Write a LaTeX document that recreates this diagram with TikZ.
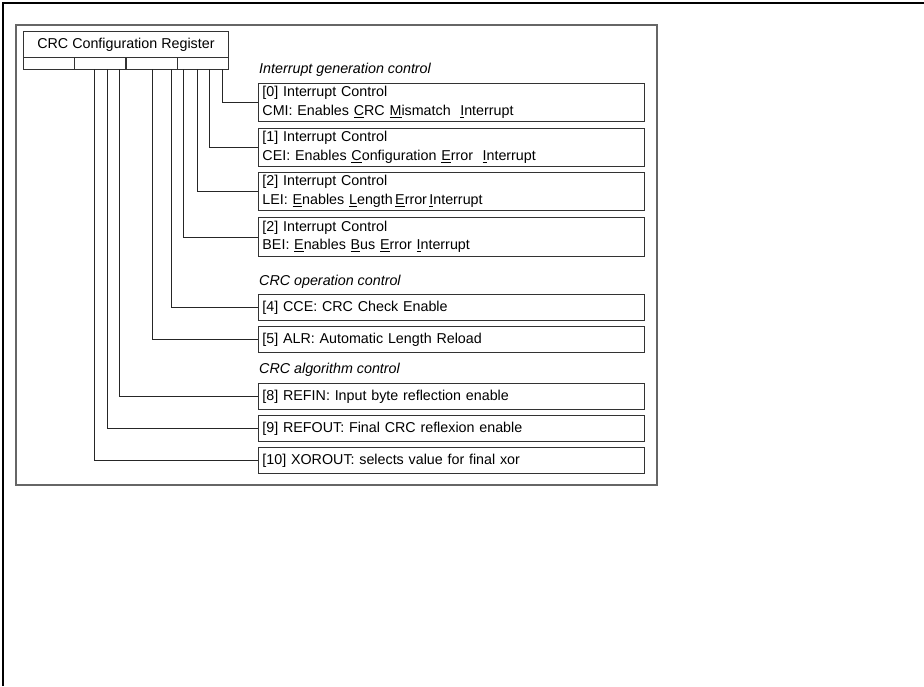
\documentclass[tikz,border=0pt]{standalone}
\usepackage{fontspec}
\setmainfont{Liberation Sans}
\begin{document}
\begin{tikzpicture}[x=1pt,y=-1pt,
  reg/.style={draw=black!80,line width=0.9pt,minimum height=#1,inner sep=0pt,anchor=north west},
  fld/.style={draw=black!80,line width=0.9pt,anchor=north west,inner xsep=4pt,inner ysep=0pt,
    minimum width=386pt,text width=378pt,align=left,minimum height=#1,
    font=\fontsize{14.3}{18.5}\selectfont},
  grp/.style={anchor=west,inner sep=2pt,font=\fontsize{14.3}{17}\selectfont\itshape},
  wire/.style={draw=black!85,line width=0.8pt}]
\useasboundingbox (0,0) rectangle (924,686);
\fill[white] (0,0) rectangle (924,686);
% page frame
\draw[line width=1.3pt] (3,686) -- (3,3) -- (924,3);
% inner frame
\draw[draw=black!60,line width=1.3pt] (16,25) rectangle (657,485);
% register
\node[reg=26pt,minimum width=205pt,font=\fontsize{14.3}{17}\selectfont] (title) at (23,31) {CRC Configuration Register};
\node[reg=12pt,minimum width=51pt] (c1) at (23,57) {};
\node[reg=12pt,minimum width=52pt] (c2) at (74,57) {};
\node[reg=12pt,minimum width=52pt] (c3) at (125,57) {};
\node[reg=12pt,minimum width=51pt] (c4) at (177,57) {};
% taps
\coordinate (tcmi) at (222,69);
\coordinate (tcei) at (209,69);
\coordinate (tlei) at (197,69);
\coordinate (tbei) at (183,69);
\coordinate (tcce) at (171,69);
\coordinate (talr) at (152,69);
\coordinate (trefin) at (119,69);
\coordinate (trefout) at (107,69);
\coordinate (txor) at (94,69);
% groups
\node[grp] (g1) at (257,70) {Interrupt generation control};
\node[grp] (g2) at (257,282) {CRC operation control};
\node[grp] (g3) at (257,370) {CRC algorithm control};
% fields
\node[fld=38pt] (cmi) at (258,83) {[0] Interrupt Control\\CMI: Enables \underline{C}RC \underline{M}ismatch \ \underline{I}nterrupt};
\node[fld=38pt] (cei) at (258,128) {[1] Interrupt Control\\CEI: Enables \underline{C}onfiguration \underline{E}rror \ \underline{I}nterrupt};
\node[fld=38pt] (lei) at (258,172) {[2] Interrupt Control\\LEI: \underline{E}nables \underline{L}ength\,\underline{E}rror\,\underline{I}nterrupt};
\node[fld=39pt] (bei) at (258,217) {[2] Interrupt Control\\BEI: \underline{E}nables \underline{B}us \underline{E}rror \underline{I}nterrupt};
\node[fld=26pt] (cce) at (258,294) {[4] CCE: CRC Check Enable};
\node[fld=26pt] (alr) at (258,326) {[5] ALR: Automatic Length Reload};
\node[fld=26pt] (refin) at (258,383) {[8] REFIN: Input byte reflection enable};
\node[fld=26pt] (refout) at (258,415) {[9] REFOUT: Final CRC reflexion enable};
\node[fld=26pt] (xor) at (258,447) {[10] XOROUT: selects value for final xor};
% connectors
\draw[wire] (tcmi) |- (cmi.west);
\draw[wire] (tcei) |- (cei.west);
\draw[wire] (tlei) |- (lei.west);
\draw[wire] (tbei) |- (bei.west);
\draw[wire] (tcce) |- (cce.west);
\draw[wire] (talr) |- (alr.west);
\draw[wire] (trefin) |- (refin.west);
\draw[wire] (trefout) |- (refout.west);
\draw[wire] (txor) |- (xor.west);
\end{tikzpicture}
\end{document}
